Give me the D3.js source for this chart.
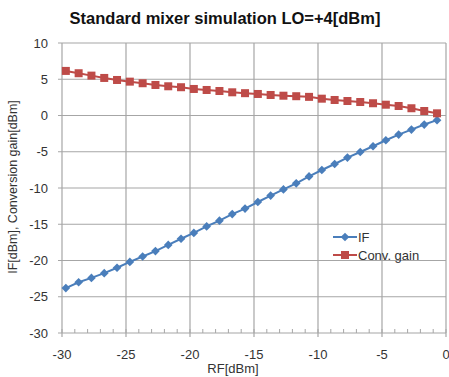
<!DOCTYPE html>
<html>
<head>
<meta charset="utf-8">
<script src="https://d3js.org/d3.v7.min.js"></script>
<style>
  body { margin: 0; background: #fff; }
  text { font-family: "Liberation Sans", Arial, sans-serif; }
</style>
</head>
<body>
<div id="chart"></div>
<script>
// RF input power [dBm] for each measured point
var rf = [-29.7, -28.7, -27.7, -26.7, -25.7, -24.7, -23.7, -22.7, -21.7, -20.7,
          -19.7, -18.7, -17.7, -16.7, -15.7, -14.7, -13.7, -12.7, -11.7, -10.7,
          -9.7, -8.7, -7.7, -6.7, -5.7, -4.7, -3.7, -2.7, -1.7, -0.7];
// IF output [dBm]
var ifOut = [-23.8, -23.0, -22.4, -21.75, -21.0, -20.2, -19.45, -18.7, -17.85, -17.0,
             -16.2, -15.3, -14.5, -13.6, -12.84, -11.93, -11.05, -10.19, -9.36, -8.4,
             -7.52, -6.69, -5.8, -5.03, -4.24, -3.41, -2.63, -1.94, -1.25, -0.64];
// conversion gain [dB]
var convGain = [6.15, 5.83, 5.5, 5.18, 4.9, 4.67, 4.45, 4.21, 4.03, 3.9,
                3.66, 3.52, 3.38, 3.2, 3.08, 2.97, 2.83, 2.73, 2.66, 2.57,
                2.32, 2.14, 2.0, 1.86, 1.69, 1.49, 1.31, 1.0, 0.62, 0.3];
var xTicks = [-30, -25, -20, -15, -10, -5, 0];
var yTicks = [10, 5, 0, -5, -10, -15, -20, -25, -30];

var W = 449, H = 377;
var margin = {top: 43, right: 3, bottom: 44, left: 62};
var width = W - margin.left - margin.right,
    height = H - margin.top - margin.bottom;

var blue = "#4a7ebb", red = "#be4b48";

var svg = d3.select("#chart").append("svg")
    .attr("width", W).attr("height", H);

svg.append("text")
    .attr("x", 225).attr("y", 24)
    .attr("text-anchor", "middle")
    .style("font-size", "16.5px").style("font-weight", "bold")
    .attr("fill", "#111")
    .text("Standard mixer simulation LO=+4[dBm]");

var g = svg.append("g")
    .attr("transform", "translate(" + margin.left + "," + margin.top + ")");

var x = d3.scaleLinear().domain([-30, 0]).range([0, width]);
var y = d3.scaleLinear().domain([-30, 10]).range([height, 0]);

// grid
g.selectAll(".hg").data(yTicks).enter().append("line")
    .attr("x1", -4).attr("x2", width)
    .attr("y1", function(d) { return y(d); }).attr("y2", function(d) { return y(d); })
    .attr("stroke", "#a6a6a6").attr("stroke-width", 1.2);
g.selectAll(".vg").data(xTicks).enter().append("line")
    .attr("y1", 0).attr("y2", height + 4)
    .attr("x1", function(d) { return x(d); }).attr("x2", function(d) { return x(d); })
    .attr("stroke", "#a6a6a6").attr("stroke-width", 1.2);

// minor ticks on the bottom axis
g.selectAll(".mt").data(d3.range(-30, 1, 1)).enter().append("line")
    .attr("x1", function(d) { return x(d); }).attr("x2", function(d) { return x(d); })
    .attr("y1", height - 4).attr("y2", height)
    .attr("stroke", "#a6a6a6").attr("stroke-width", 1);

// tick labels
g.selectAll(".yl").data(yTicks).enter().append("text")
    .attr("x", -14).attr("y", function(d) { return y(d); })
    .attr("dy", "0.36em").attr("text-anchor", "end")
    .style("font-size", "13px").attr("fill", "#333")
    .text(function(d) { return d; });
g.selectAll(".xl").data(xTicks).enter().append("text")
    .attr("x", function(d) { return x(d); }).attr("y", height + 26)
    .attr("text-anchor", "middle")
    .style("font-size", "13px").attr("fill", "#333")
    .text(function(d) { return d; });

svg.append("text")
    .attr("x", 233).attr("y", 373)
    .attr("text-anchor", "middle")
    .style("font-size", "13px").attr("fill", "#333")
    .text("RF[dBm]");
svg.append("text")
    .attr("transform", "translate(17,187) rotate(-90)")
    .attr("text-anchor", "middle")
    .style("font-size", "12.5px").attr("fill", "#333")
    .text("IF[dBm], Conversion gain[dBm]");

var ifData = rf.map(function(r, i) { return {x: r, y: ifOut[i]}; });
var cgData = rf.map(function(r, i) { return {x: r, y: convGain[i]}; });

var line = d3.line().x(function(d) { return x(d.x); }).y(function(d) { return y(d.y); });

g.append("path").datum(ifData).attr("d", line)
    .attr("fill", "none").attr("stroke", blue).attr("stroke-width", 2);
g.append("path").datum(cgData).attr("d", line)
    .attr("fill", "none").attr("stroke", red).attr("stroke-width", 2);

var diamond = d3.symbol().type(d3.symbolDiamond2).size(48);
g.selectAll(".ifm").data(ifData).enter().append("path")
    .attr("d", diamond)
    .attr("transform", function(d) { return "translate(" + x(d.x) + "," + y(d.y) + ")"; })
    .attr("fill", blue);
g.selectAll(".cgm").data(cgData).enter().append("rect")
    .attr("x", function(d) { return x(d.x) - 4; })
    .attr("y", function(d) { return y(d.y) - 4; })
    .attr("width", 8).attr("height", 8)
    .attr("fill", red);

// legend
var legend = [{name: "IF", color: blue, shape: "d"}, {name: "Conv. gain", color: red, shape: "s"}];
var lg = svg.append("g").attr("transform", "translate(333,237)");
legend.forEach(function(l, i) {
  var row = lg.append("g").attr("transform", "translate(0," + (i * 18) + ")");
  row.append("line").attr("x1", 0).attr("x2", 24).attr("y1", 0).attr("y2", 0)
      .attr("stroke", l.color).attr("stroke-width", 2);
  if (l.shape === "d") {
    row.append("path").attr("d", diamond).attr("transform", "translate(12,0)").attr("fill", l.color);
  } else {
    row.append("rect").attr("x", 8).attr("y", -4).attr("width", 8).attr("height", 8).attr("fill", l.color);
  }
  row.append("text").attr("x", 25).attr("y", 0).attr("dy", "0.36em")
      .style("font-size", "13px").attr("fill", "#333").text(l.name);
});
</script>
</body>
</html>
